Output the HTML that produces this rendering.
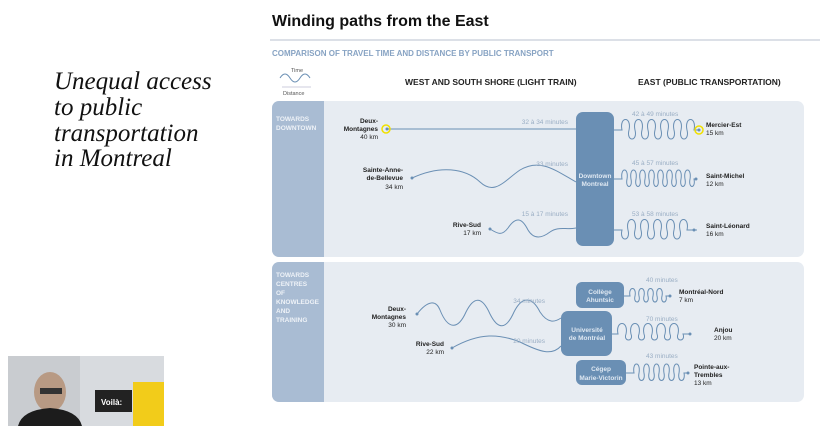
<!DOCTYPE html>
<html><head><meta charset="utf-8"><style>
html,body{margin:0;padding:0;background:#fff;width:828px;height:426px;overflow:hidden}
svg{display:block}
</style></head><body>
<svg width="828" height="426" viewBox="0 0 828 426" xmlns="http://www.w3.org/2000/svg" font-family="Liberation Sans, Arial, sans-serif">
<rect width="828" height="426" fill="#fff"/>
<g font-family="Liberation Serif, serif" font-style="italic" font-size="25" fill="#111">
<text x="54" y="89">Unequal access</text>
<text x="54" y="115">to public</text>
<text x="54" y="141">transportation</text>
<text x="54" y="166">in Montreal</text>
</g>
<rect x="8" y="356" width="156" height="70" fill="#c9ccd0"/>
<rect x="80" y="356" width="84" height="70" fill="#d8dbdf"/>
<rect x="95" y="390" width="37" height="22" fill="#222"/>
<text x="101" y="405" font-size="8" font-weight="bold" fill="#fff">Voilà:</text>
<rect x="133" y="382" width="31" height="44" fill="#f2cc1a"/>
<ellipse cx="50" cy="392" rx="16" ry="20" fill="#b89a84"/>
<rect x="40" y="388" width="22" height="6" fill="#333"/>
<path d="M18 426 Q22 410 50 408 Q78 410 82 426Z" fill="#1c1c1c"/>

<text x="272" y="26" font-size="16" font-weight="bold" fill="#111">Winding paths from the East</text>
<line x1="270" y1="40" x2="820" y2="40" stroke="#b8c2cf" stroke-width="1"/>
<text x="272" y="56" font-size="8" font-weight="bold" fill="#87a3c3">COMPARISON OF TRAVEL TIME AND DISTANCE BY PUBLIC TRANSPORT</text>
<text x="291" y="72" font-size="5.5" fill="#555">Time</text>
<path d="M280 78 q5 -8 10 0 t10 0 t10 0" fill="none" stroke="#6a8fb4"/>
<text x="283" y="95" font-size="5.5" fill="#555">Distance</text>
<line x1="282" y1="87" x2="311" y2="87" stroke="#ccd" />
<text x="405" y="85" font-size="8.5" font-weight="bold" fill="#222">WEST AND SOUTH SHORE (LIGHT TRAIN)</text>
<text x="638" y="85" font-size="8.5" font-weight="bold" fill="#222">EAST (PUBLIC TRANSPORTATION)</text>

<rect x="272" y="101" width="532" height="156" rx="7" fill="#e7ecf2"/>
<path d="M279 101 H324 V257 H279 a7 7 0 0 1 -7 -7 V108 a7 7 0 0 1 7 -7Z" fill="#a9bcd3"/>
<text font-size="6.5" font-weight="bold" fill="#eef2f7"><tspan x="276" y="121">TOWARDS</tspan><tspan x="276" y="130">DOWNTOWN</tspan></text>
<rect x="272" y="262" width="532" height="140" rx="7" fill="#e7ecf2"/>
<path d="M279 262 H324 V402 H279 a7 7 0 0 1 -7 -7 V269 a7 7 0 0 1 7 -7Z" fill="#a9bcd3"/>
<text font-size="6.5" font-weight="bold" fill="#eef2f7"><tspan x="276" y="277">TOWARDS</tspan><tspan x="276" y="286">CENTRES</tspan><tspan x="276" y="295">OF</tspan><tspan x="276" y="304">KNOWLEDGE</tspan><tspan x="276" y="313">AND</tspan><tspan x="276" y="322">TRAINING</tspan></text>

<g fill="none" stroke="#6a8fb4" stroke-width="1">
<line x1="387" y1="129" x2="576" y2="129"/>
<path d="M412 178 C440 165 465 168 480 182 C495 196 505 180 520 170 C540 158 555 170 576 182"/>
<path d="M490 229 C498 234 502 236 508 228 C516 216 522 218 528 230 C534 240 542 238 550 232 C558 226 566 230 576 228"/>
<!-- east loops -->
<path d="M613 130 H622 c-3,-14 10,-14 7,0 c-3,12 9,12 6,0 c-3,-14 10,-14 7,0 c-3,12 9,12 6,0 c-3,-14 10,-14 7,0 c-3,12 9,12 6,0 c-3,-14 10,-14 7,0 c-3,12 9,12 6,0 c-3,-14 10,-14 7,0 c-3,12 9,12 6,0 c-3,-14 10,-14 7,0 h4"/>
<path d="M613 179 H622 c-2,-12 7,-12 5,0 c-2,10 6,10 4,0 c-2,-12 7,-12 5,0 c-2,10 6,10 4,0 c-2,-12 7,-12 5,0 c-2,10 6,10 4,0 c-2,-12 7,-12 5,0 c-2,10 6,10 4,0 c-2,-12 7,-12 5,0 c-2,10 6,10 4,0 c-2,-12 7,-12 5,0 c-2,10 6,10 4,0 c-2,-12 7,-12 5,0 c-2,10 6,10 4,0 c-2,-12 7,-12 5,0 c-2,10 6,10 4,0 h2"/>
<path d="M613 230 H622 c-3,12 9,12 6,0 c-3,-14 10,-14 7,0 c-3,12 9,12 6,0 c-3,-14 10,-14 7,0 c-3,12 9,12 6,0 c-3,-14 10,-14 7,0 c-3,12 9,12 6,0 c-3,-14 10,-14 7,0 c-3,12 9,12 6,0 c-3,-14 10,-14 7,0 h10"/>
<path d="M623 296 H630 c-2,-10 7,-10 5,0 c-2,8 6,8 4,0 c-2,-10 7,-10 5,0 c-2,8 6,8 4,0 c-2,-10 7,-10 5,0 c-2,8 6,8 4,0 c-2,-10 7,-10 5,0 c-2,8 6,8 4,0 h4"/>
<path d="M612 334 H618 c-3,-14 11,-14 8,0 c-3,8 8,8 5,0 c-3,-14 11,-14 8,0 c-3,8 8,8 5,0 c-3,-14 11,-14 8,0 c-3,8 8,8 5,0 c-3,-14 11,-14 8,0 c-3,8 8,8 5,0 c-3,-14 11,-14 8,0 c-3,8 8,8 5,0 h7"/>
<path d="M626 373 H634 c-2,-12 7,-12 5,0 c-2,10 7,10 5,0 c-2,-12 7,-12 5,0 c-2,10 7,10 5,0 c-2,-12 7,-12 5,0 c-2,10 7,10 5,0 c-2,-12 7,-12 5,0 c-2,10 7,10 5,0 c-2,-12 7,-12 5,0 c-2,10 7,10 5,0 h4"/>
<path d="M417 314 C428 300 436 300 440 310 C448 330 458 330 466 312 C474 296 482 296 490 314 C498 330 506 330 514 312 C522 296 532 296 540 312 C548 324 555 322 561 318"/>
<path d="M452 348 C480 332 500 334 520 342 C540 352 552 356 561 346"/>
</g>
<g fill="#6a8fb4">
<circle cx="387" cy="129" r="1.5"/><circle cx="412" cy="178" r="1.5"/><circle cx="490" cy="229" r="1.5"/>
<circle cx="417" cy="314" r="1.5"/><circle cx="452" cy="348" r="1.5"/>
<circle cx="699" cy="130" r="1.5"/><circle cx="696" cy="179" r="1.5"/><circle cx="694" cy="230" r="1.5"/>
<circle cx="670" cy="296" r="1.5"/><circle cx="690" cy="334" r="1.5"/><circle cx="688" cy="373" r="1.5"/>
</g>
<circle cx="386" cy="129" r="4" fill="none" stroke="#f0e000" stroke-width="1.5"/>
<circle cx="699" cy="130" r="4" fill="none" stroke="#f0e000" stroke-width="1.5"/>

<rect x="576" y="112" width="38" height="134" rx="7" fill="#6a8fb4"/>
<text font-size="6.5" font-weight="bold" fill="#dfe8f2" text-anchor="middle"><tspan x="595" y="178">Downtown</tspan><tspan x="595" y="186">Montreal</tspan></text>
<rect x="576" y="282" width="48" height="26" rx="6" fill="#6a8fb4"/>
<text font-size="6.5" font-weight="bold" fill="#dfe8f2" text-anchor="middle"><tspan x="600" y="294">Collège</tspan><tspan x="600" y="302">Ahuntsic</tspan></text>
<rect x="561" y="311" width="51" height="45" rx="7" fill="#6a8fb4"/>
<text font-size="6.5" font-weight="bold" fill="#dfe8f2" text-anchor="middle"><tspan x="587" y="332">Université</tspan><tspan x="587" y="340">de Montréal</tspan></text>
<rect x="576" y="360" width="50" height="25" rx="6" fill="#6a8fb4"/>
<text font-size="6.5" font-weight="bold" fill="#dfe8f2" text-anchor="middle"><tspan x="601" y="371">Cégep</tspan><tspan x="601" y="380">Marie-Victorin</tspan></text>

<g font-size="6.5" fill="#9aaec4">
<text x="568" y="124" text-anchor="end">32 à 34 minutes</text>
<text x="568" y="166" text-anchor="end">33 minutes</text>
<text x="568" y="216" text-anchor="end">15 à 17 minutes</text>
<text x="632" y="116">42 à 49 minutes</text>
<text x="632" y="165">45 à 57 minutes</text>
<text x="632" y="216">53 à 58 minutes</text>
<text x="545" y="303" text-anchor="end">34 minutes</text>
<text x="545" y="343" text-anchor="end">20 minutes</text>
<text x="646" y="282">40 minutes</text>
<text x="646" y="321">70 minutes</text>
<text x="646" y="358">43 minutes</text>
</g>
<g font-size="6.5" fill="#222" text-anchor="end">
<text x="378" y="123" font-weight="bold">Deux-</text>
<text x="378" y="131" font-weight="bold">Montagnes</text>
<text x="378" y="139">40 km</text>
<text x="403" y="172" font-weight="bold">Sainte-Anne-</text>
<text x="403" y="180" font-weight="bold">de-Bellevue</text>
<text x="403" y="189">34 km</text>
<text x="481" y="227" font-weight="bold">Rive-Sud</text>
<text x="481" y="235">17 km</text>
<text x="406" y="311" font-weight="bold">Deux-</text>
<text x="406" y="319" font-weight="bold">Montagnes</text>
<text x="406" y="327">30 km</text>
<text x="444" y="346" font-weight="bold">Rive-Sud</text>
<text x="444" y="354">22 km</text>
</g>
<g font-size="6.5" fill="#222">
<text x="706" y="127" font-weight="bold">Mercier-Est</text>
<text x="706" y="135">15 km</text>
<text x="706" y="178" font-weight="bold">Saint-Michel</text>
<text x="706" y="186">12 km</text>
<text x="706" y="228" font-weight="bold">Saint-Léonard</text>
<text x="706" y="236">16 km</text>
<text x="679" y="294" font-weight="bold">Montréal-Nord</text>
<text x="679" y="302">7 km</text>
<text x="714" y="332" font-weight="bold">Anjou</text>
<text x="714" y="340">20 km</text>
<text x="694" y="369" font-weight="bold">Pointe-aux-</text>
<text x="694" y="377" font-weight="bold">Trembles</text>
<text x="694" y="385">13 km</text>
</g>
</svg>
</body></html>
